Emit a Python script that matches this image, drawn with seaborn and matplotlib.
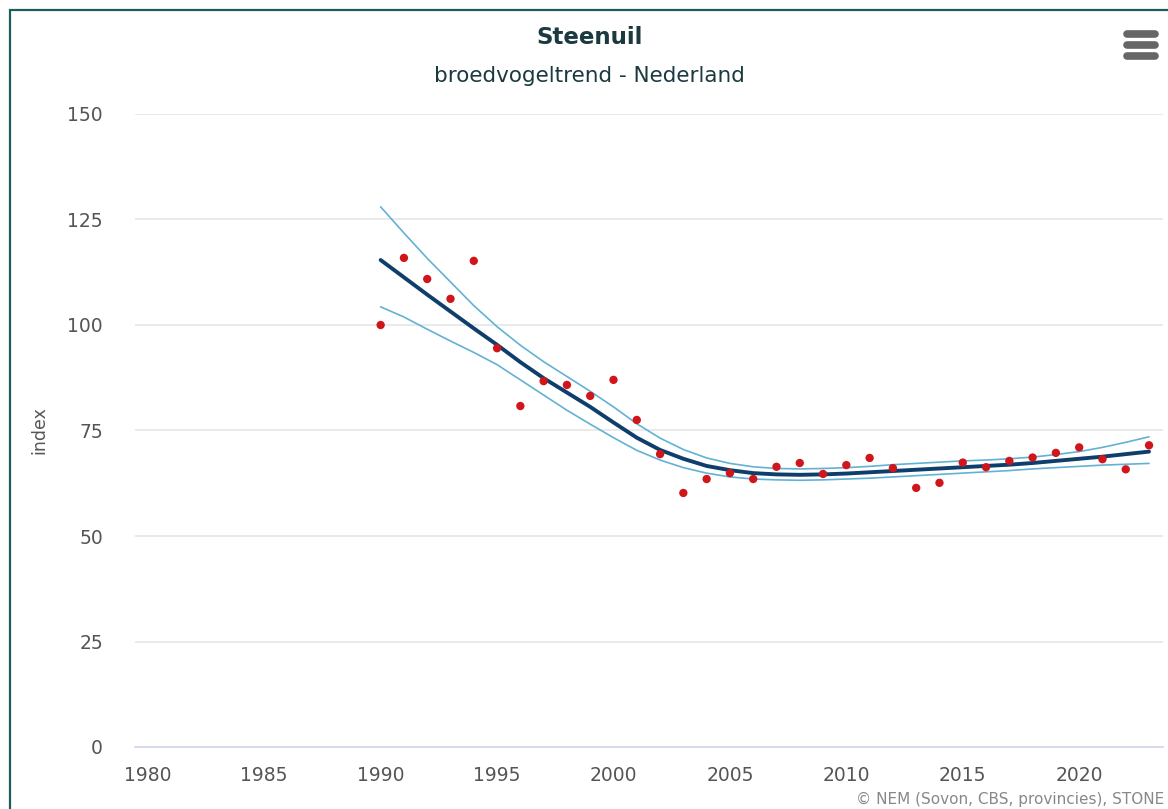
import numpy as np
import pandas as pd
import matplotlib
matplotlib.use("Agg")
import matplotlib.pyplot as plt
import seaborn as sns
from matplotlib.patches import Rectangle

# --- data ---
years = list(range(1990, 2024))

index_points = [100.0, 115.9, 110.9, 106.2, 115.2, 94.5, 80.8, 86.7, 85.8, 83.2,
                87.0, 77.5, 69.4, 60.2, 63.5, 64.9, 63.5, 66.4, 67.3, 64.7,
                66.8, 68.5, 66.1, 61.4, 62.6, 67.4, 66.3, 67.8, 68.6, 69.7,
                71.0, 68.2, 65.8, 71.5]

trend = [115.4, 111.3, 107.2, 103.2, 99.2, 95.3, 91.2, 87.4, 84.0, 80.6,
         76.9, 73.3, 70.4, 68.3, 66.6, 65.6, 64.9, 64.6, 64.5, 64.6,
         64.8, 65.1, 65.4, 65.7, 66.0, 66.3, 66.6, 66.9, 67.3, 67.8,
         68.3, 68.8, 69.4, 70.0]

upper = [128.0, 121.8, 115.8, 110.2, 104.6, 99.6, 95.2, 91.3, 87.8, 84.3,
         80.6, 76.6, 73.2, 70.5, 68.5, 67.2, 66.4, 66.0, 65.9, 66.0,
         66.2, 66.5, 66.9, 67.2, 67.5, 67.8, 68.0, 68.3, 68.7, 69.3,
         70.0, 71.0, 72.2, 73.5]

lower = [104.3, 101.9, 99.0, 96.2, 93.5, 90.6, 87.0, 83.4, 79.8, 76.5,
         73.3, 70.3, 68.0, 66.2, 64.9, 64.0, 63.5, 63.3, 63.2, 63.3,
         63.5, 63.7, 64.0, 64.3, 64.6, 64.9, 65.2, 65.5, 65.9, 66.2,
         66.5, 66.8, 67.0, 67.2]

x_ticks = [1980, 1985, 1990, 1995, 2000, 2005, 2010, 2015, 2020]
y_ticks = [0, 25, 50, 75, 100, 125, 150]

df = pd.DataFrame({"jaar": years, "index": index_points, "trend": trend,
                   "upper": upper, "lower": lower})

sns.set_style("white")
plt.rcParams["font.family"] = ["DejaVu Sans"]

W, H = 1168, 809
fig = plt.figure(figsize=(W / 100, H / 100), dpi=100)
ax = fig.add_axes([135 / W, (H - 747) / H, (1163 - 135) / W, (747 - 114) / H])

# outer frame of the widget
fig.patches.append(Rectangle((10 / W, -0.05), 1.2, (H - 10) / H + 0.05,
                             transform=fig.transFigure, fill=False,
                             edgecolor="#1e5c5c", linewidth=1.6))

sns.lineplot(data=df, x="jaar", y="upper", ax=ax, color="#62b2d3", linewidth=1.2)
sns.lineplot(data=df, x="jaar", y="lower", ax=ax, color="#62b2d3", linewidth=1.2)
sns.lineplot(data=df, x="jaar", y="trend", ax=ax, color="#0e3e6c", linewidth=2.8)
sns.scatterplot(data=df, x="jaar", y="index", ax=ax, color="#d0161b", s=36,
                edgecolor="none", zorder=5)

ax.set_xlim(1979.45, 2023.6)
ax.set_ylim(0, 150)
ax.set_xticks(x_ticks)
ax.set_yticks(y_ticks)
ax.grid(axis="y", color="#e6e6e6", linewidth=1.2)
ax.grid(axis="x", visible=False)
for s in ["left", "right", "top"]:
    ax.spines[s].set_visible(False)
ax.spines["bottom"].set_color("#ccd6eb")
ax.spines["bottom"].set_linewidth(1.2)
ax.tick_params(axis="x", length=10, width=1.2, color="#ccd6eb",
               labelsize=13.5, pad=4)
ax.tick_params(axis="y", length=0, labelsize=13.5, pad=23)
for lbl in ax.get_xticklabels() + ax.get_yticklabels():
    lbl.set_color("#555555")
ax.set_xlabel("")
ax.set_ylabel("index", fontsize=12.5, color="#555555", labelpad=14)
ax.set_axisbelow(True)

fig.text(590 / W, 1 - 37 / H, "Steenuil", ha="center", va="center",
         fontsize=16.5, fontweight="bold", color="#1b3a40")
fig.text(589 / W, 1 - 76 / H, "broedvogeltrend - Nederland", ha="center",
         va="center", fontsize=15.5, color="#1b3a40")
fig.text(1164 / W, 2 / H, "© NEM (Sovon, CBS, provincies), STONE",
         ha="right", va="bottom", fontsize=11, color="#888888")

# menu icon
for yy in [34, 45, 56]:
    fig.add_artist(plt.Line2D([1127 / W, 1155 / W], [1 - yy / H, 1 - yy / H],
                              transform=fig.transFigure, color="#666666",
                              linewidth=5.5, solid_capstyle="round"))

fig.savefig("out.png", dpi=100)
